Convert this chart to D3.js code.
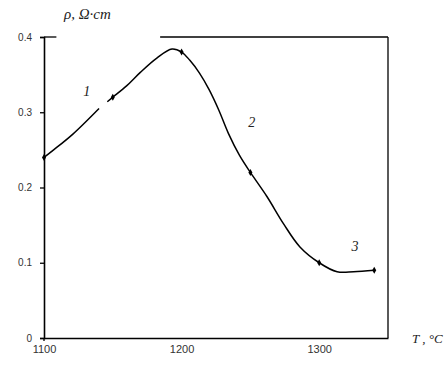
<!DOCTYPE html>
<html><head><meta charset="utf-8">
<script src="https://cdn.jsdelivr.net/npm/d3@7"></script>
<style>body{margin:0;background:#fff}svg{display:block}</style>
</head><body>
<svg id="c" width="448" height="366"></svg>
<script>
// Data
const xTicks = [1100, 1200, 1300];
const yTicks = [0, 0.1, 0.2, 0.3, 0.4];
const yTickLabels = ["0", "0.1", "0.2", "0.3", "0.4"];
const curveT1 = [1100, 1107, 1121, 1140];
const curveV1 = [0.24, 0.25, 0.271, 0.305];
const curveT2 = [1146, 1150, 1160, 1170, 1182, 1193, 1200, 1206, 1213, 1220, 1227, 1234, 1242, 1250, 1262, 1274, 1286, 1300, 1313, 1325, 1340];
const curveV2 = [0.314, 0.32, 0.335, 0.353, 0.372, 0.384, 0.38, 0.369, 0.352, 0.330, 0.303, 0.272, 0.243, 0.22, 0.188, 0.152, 0.121, 0.10, 0.088, 0.088, 0.09];
const markerT = [1100, 1150, 1200, 1250, 1300, 1340];
const markerV = [0.24, 0.32, 0.38, 0.22, 0.10, 0.09];
const curveLabels = ["1", "2", "3"];
const labelT = [1131, 1251, 1326];
const labelV = [0.3216, 0.281, 0.115];

const svg = d3.select("#c");
const x = d3.scaleLinear().domain([1100, 1350]).range([44, 388]);
const y = d3.scaleLinear().domain([0, 0.4]).range([338, 37]);

// frame: top (partial) and right
svg.append("line").attr("x1", x(1184.4)).attr("x2", x(1350)).attr("y1", y(0.4)).attr("y2", y(0.4))
  .attr("stroke", "#000").attr("stroke-width", 1.3);
svg.append("line").attr("x1", x(1350)).attr("x2", x(1350)).attr("y1", y(0.4)).attr("y2", y(0))
  .attr("stroke", "#000").attr("stroke-width", 1.3);
svg.append("line").attr("x1", x(1100)).attr("x2", x(1109)).attr("y1", y(0.4)).attr("y2", y(0.4))
  .attr("stroke", "#000").attr("stroke-width", 1.3);

// y axis
const yAxis = d3.axisLeft(y).tickValues(yTicks).tickSize(4).tickPadding(8)
  .tickFormat((d, i) => yTickLabels[i]);
const gy = svg.append("g").attr("transform", `translate(${x(1100)},0)`).call(yAxis);
gy.select(".domain").attr("stroke-width", 1.6);
gy.selectAll(".tick line").attr("stroke-width", 1.3);
gy.selectAll("text").attr("font-family", "Liberation Sans, Arial, sans-serif").attr("font-size", 10).attr("fill", "#333");

// x axis
const xAxis = d3.axisBottom(x).tickValues(xTicks).tickSize(0).tickPadding(7).tickFormat(d3.format("d"));
const gx = svg.append("g").attr("transform", `translate(0,${y(0)})`).call(xAxis);
gx.select(".domain").attr("stroke-width", 1.6);
gx.selectAll("text").attr("font-family", "Liberation Sans, Arial, sans-serif").attr("font-size", 11).attr("fill", "#333");
gx.append("line").attr("x1", x(1100)).attr("x2", x(1100)).attr("y1", 0).attr("y2", 3).attr("stroke", "#000").attr("stroke-width", 1.3);

// curve
const line = d3.line().x(d => x(d[0])).y(d => y(d[1])).curve(d3.curveCatmullRom.alpha(0.5));
const seg1 = curveT1.map((t, i) => [t, curveV1[i]]);
const seg2 = curveT2.map((t, i) => [t, curveV2[i]]);
[seg1, seg2].forEach(s => svg.append("path").attr("d", line(s)).attr("fill", "none")
  .attr("stroke", "#000").attr("stroke-width", 1.5));

// markers
svg.selectAll("path.mk").data(markerT.map((t, i) => [t, markerV[i]])).enter().append("path")
  .attr("class", "mk")
  .attr("d", d3.symbol(d3.symbolDiamond, 14))
  .attr("transform", d => `translate(${x(d[0])},${y(d[1])})`)
  .attr("fill", "#000");

// curve labels
svg.selectAll("text.cl").data(curveLabels).enter().append("text")
  .attr("class", "cl")
  .attr("x", (d, i) => x(labelT[i])).attr("y", (d, i) => y(labelV[i]))
  .attr("font-family", "Liberation Serif, Times New Roman, serif").attr("font-style", "italic")
  .attr("font-size", 14).attr("fill", "#222").attr("text-anchor", "middle").text(d => d);

// axis titles
svg.append("text").attr("x", 64).attr("y", 19)
  .attr("font-family", "Liberation Serif, Times New Roman, serif").attr("font-style", "italic")
  .attr("font-size", 15).attr("fill", "#222").text("ρ, Ω·cm");
svg.append("text").attr("x", 412).attr("y", 343)
  .attr("font-family", "Liberation Serif, Times New Roman, serif").attr("font-style", "italic")
  .attr("font-size", 13).attr("fill", "#222").text("T , °C");
</script>
</body></html>
